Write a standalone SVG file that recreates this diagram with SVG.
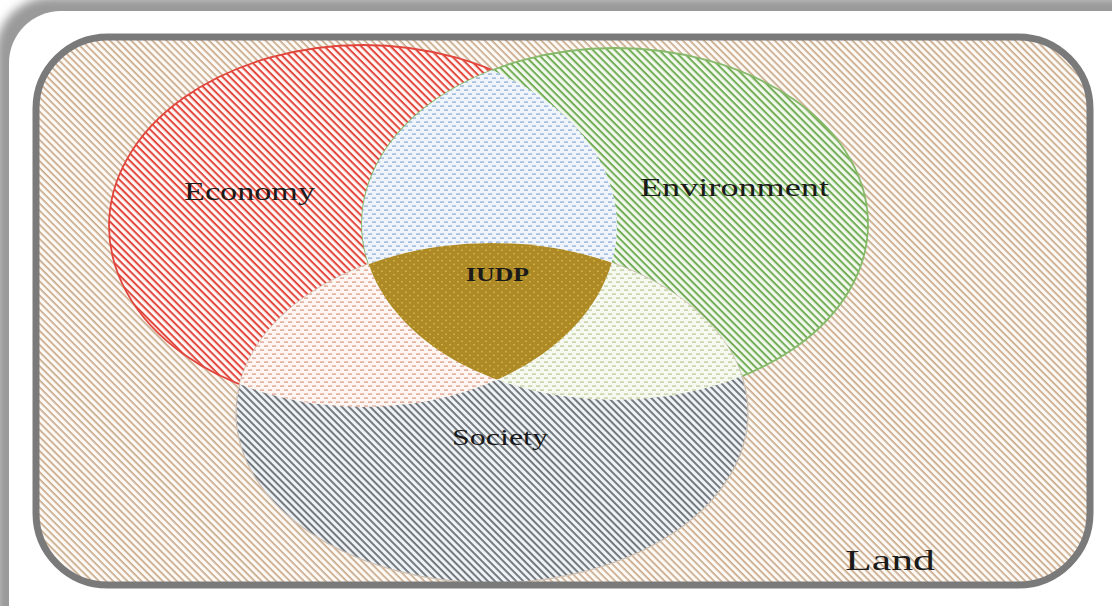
<svg xmlns="http://www.w3.org/2000/svg" width="1112" height="606" viewBox="0 0 1112 606">
<style>
.lbl{font-family:"Liberation Serif","Times New Roman",serif;fill:#1a1a1a}
</style>
<defs>
<filter id="sh" x="-5%" y="-5%" width="110%" height="110%"><feGaussianBlur stdDeviation="5"/></filter>
<pattern id="pLand" width="5" height="5" patternUnits="userSpaceOnUse" patternTransform="rotate(45)">
<rect width="5" height="5" fill="#fdfaf6"/><rect width="5" height="1.7" fill="#c8a98b"/></pattern>
<pattern id="pRed" width="5.2" height="5.2" patternUnits="userSpaceOnUse" patternTransform="rotate(45)">
<rect width="5.2" height="5.2" fill="#fff8f6"/><rect width="5.2" height="2" fill="#e2473d"/></pattern>
<pattern id="pGreen" width="5.2" height="5.2" patternUnits="userSpaceOnUse" patternTransform="rotate(45)">
<rect width="5.2" height="5.2" fill="#f4f9f0"/><rect width="5.2" height="2" fill="#72ad55"/></pattern>
<pattern id="pGray" width="5" height="5" patternUnits="userSpaceOnUse" patternTransform="rotate(45)">
<rect width="5" height="5" fill="#eef3f7"/><rect width="5" height="1.9" fill="#6f7377"/></pattern>
<pattern id="pBlue" width="8" height="8" patternUnits="userSpaceOnUse">
<rect width="8" height="8" fill="#eff5fb"/><rect x="0" y="1.5" width="4.2" height="1.2" fill="#8ca8d6"/><rect x="4" y="5.5" width="4.2" height="1.2" fill="#8ca8d6"/></pattern>
<pattern id="pOrange" width="8" height="8" patternUnits="userSpaceOnUse">
<rect width="8" height="8" fill="#fdf6f2"/><rect x="0" y="1.5" width="4.2" height="1.2" fill="#dc9680"/><rect x="4" y="5.5" width="4.2" height="1.2" fill="#dc9680"/></pattern>
<pattern id="pLGreen" width="8" height="8" patternUnits="userSpaceOnUse">
<rect width="8" height="8" fill="#f6f9f0"/><rect x="0" y="1.5" width="4.2" height="1.2" fill="#b9c692"/><rect x="4" y="5.5" width="4.2" height="1.2" fill="#b9c692"/></pattern>
<pattern id="pGold" width="8" height="7" patternUnits="userSpaceOnUse">
<rect width="8" height="7" fill="#ad8a26"/><circle cx="2" cy="1.75" r="0.8" fill="#e6c653"/><circle cx="6" cy="5.25" r="0.8" fill="#e6c653"/></pattern>
<clipPath id="cInner"><rect x="36" y="37" width="1054" height="548" rx="72"/></clipPath>
<clipPath id="cEco"><ellipse cx="363" cy="226" rx="254" ry="181"/></clipPath>
<clipPath id="cEnv"><ellipse cx="615" cy="224" rx="253" ry="176"/></clipPath>
</defs>

<rect width="1112" height="606" fill="#ffffff"/>
<g id="frame">
<rect x="-4" y="-3" width="1250" height="700" rx="55" fill="#9a9a9a" filter="url(#sh)"/>
<rect x="9" y="11" width="1250" height="700" rx="52" fill="#ffffff"/>
</g>

<g id="land">
<rect x="36" y="37" width="1054" height="548" rx="72" fill="url(#pLand)"/>
</g>

<g clip-path="url(#cInner)">
<g id="economy">
<ellipse cx="363" cy="226" rx="254" ry="181" fill="url(#pRed)" stroke="#e0463c" stroke-width="1.8"/>
</g>
<g id="environment">
<ellipse cx="615" cy="224" rx="253" ry="176" fill="url(#pGreen)" stroke="#86b96a" stroke-width="1.8"/>
</g>
<g id="society">
<ellipse cx="492" cy="413" rx="256" ry="170" fill="url(#pGray)" stroke="#cdbfb2" stroke-width="1.2"/>
</g>
<g id="economy-environment" clip-path="url(#cEco)">
<ellipse cx="615" cy="224" rx="253" ry="176" fill="url(#pBlue)"/>
</g>
<g id="economy-society" clip-path="url(#cEco)">
<ellipse cx="492" cy="413" rx="256" ry="170" fill="url(#pOrange)"/>
</g>
<g id="environment-society" clip-path="url(#cEnv)">
<ellipse cx="492" cy="413" rx="256" ry="170" fill="url(#pLGreen)"/>
</g>
<g id="iudp-region" clip-path="url(#cEco)">
<ellipse cx="492" cy="413" rx="256" ry="170" fill="url(#pGold)" clip-path="url(#cEnv)"/>
</g>
</g>

<rect x="36" y="37" width="1054" height="548" rx="72" fill="none" stroke="#7a7a7a" stroke-width="7"/>

<g id="connectors"></g>

<g id="labels">
<text class="lbl" x="184" y="200" font-size="26" textLength="131" lengthAdjust="spacingAndGlyphs">Economy</text>
<text class="lbl" x="640" y="196" font-size="25" textLength="189" lengthAdjust="spacingAndGlyphs">Environment</text>
<text class="lbl" x="452" y="445" font-size="23" textLength="96" lengthAdjust="spacingAndGlyphs">Society</text>
<text class="lbl" x="466" y="281" font-size="19" font-weight="bold" textLength="63" lengthAdjust="spacingAndGlyphs">IUDP</text>
<text class="lbl" x="845" y="570" font-size="30" textLength="90" lengthAdjust="spacingAndGlyphs">Land</text>
</g>
</svg>
